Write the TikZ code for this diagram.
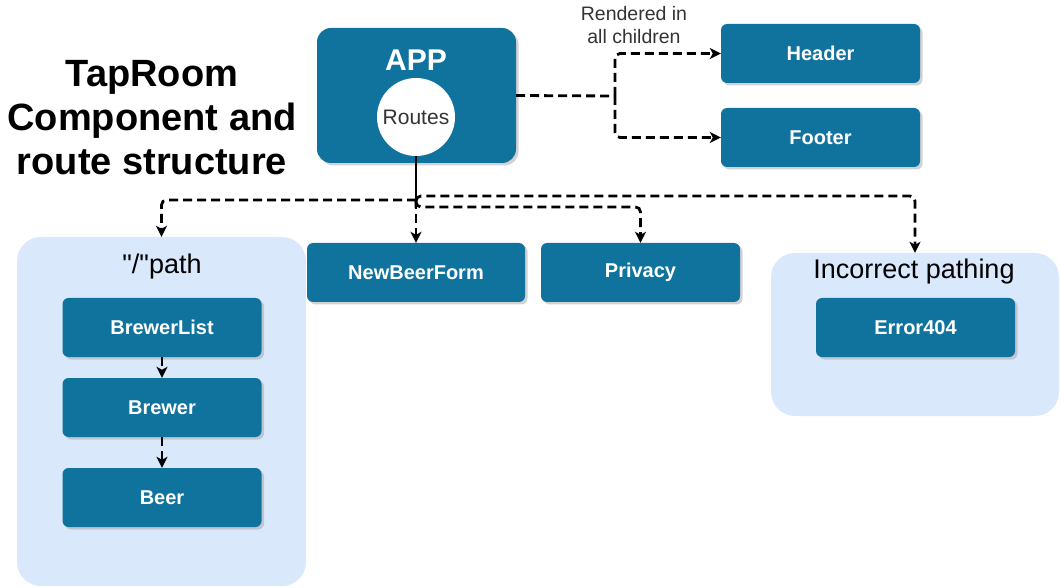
\documentclass[tikz,border=0pt]{standalone}
\usepackage{fontspec}
\setmainfont{Liberation Sans}
\newfontfamily\rawfont{Liberation Sans}[Ligatures=TeXOff]
\usetikzlibrary{arrows.meta,shadows}
\definecolor{compblue}{HTML}{10739E}
\definecolor{grpblue}{HTML}{DAE8FC}
\definecolor{notegray}{HTML}{333333}

\begin{document}
\begin{tikzpicture}[
  x=1pt,
  y=-1pt,
  comp/.style={fill=compblue, rounded corners=6pt, minimum width=199pt, minimum height=59pt,
    text=white, font=\fontsize{20}{24}\selectfont\bfseries,
    drop shadow={shadow xshift=2.5pt, shadow yshift=-2.5pt, fill=black!35, opacity=0.5}},
  grp/.style={fill=grpblue, rounded corners=24pt, inner sep=0pt},
  grplabel/.style={font=\fontsize{27}{31}\selectfont},
  solidline/.style={line width=2.8pt},
  dashline/.style={line width=2.8pt, dash pattern=on 9pt off 5pt, rounded corners=5pt},
  flow/.style={dashline, -{Stealth[length=11pt,width=11pt,inset=3pt]}}
]
  \useasboundingbox (0,0) rectangle (1061,588);

  % title
  \node[align=center, font=\fontsize{38}{44}\selectfont\bfseries] (title) at (152,118)
    {TapRoom\\Component and\\route structure};

  % groups
  \node[grp, minimum width=289pt, minimum height=349pt] (rootgrp) at (161.5,411.5) {};
  \node[grplabel] (rootlbl) at (162,267) {\rawfont"/"path};
  \node[grp, minimum width=288pt, minimum height=163pt] (errgrp) at (915,334.5) {};
  \node[grplabel] (errlbl) at (914,272) {Incorrect pathing};

  % app with routes
  \node[comp, minimum height=135pt, rounded corners=14pt] (app) at (416.5,95.5) {};
  \node[text=white, font=\fontsize{30}{34}\selectfont\bfseries] (applbl) at (416,60) {APP};
  \node[circle, fill=white, inner sep=0pt, minimum size=78pt, text=notegray,
    font=\fontsize{21}{24}\selectfont] (routes) at (416,117) {Routes};

  % components
  \node[comp] (header) at (820.5,53.5) {Header};
  \node[comp] (footer) at (820.5,137.5) {Footer};
  \node[comp, minimum width=218pt] (newbeer) at (416,272.5) {NewBeerForm};
  \node[comp] (privacy) at (640.5,272.5) {Privacy};
  \node[comp] (brewerlist) at (162,327.5) {BrewerList};
  \node[comp] (brewer) at (162,407.5) {Brewer};
  \node[comp] (beer) at (162,497.5) {Beer};
  \node[comp] (error) at (915.5,327.5) {Error404};

  \node[align=center, text=notegray, font=\fontsize{19.5}{23}\selectfont] (rendered) at (634,25)
    {Rendered in\\all children};

  % connectors
  \coordinate (split) at (615,96);
  \coordinate (hub) at (416,200);
  \draw[dashline] (app.east) -- (split);
  \draw[flow] (split) |- (header.west);
  \draw[flow] (split) |- (footer.west);

  \draw[solidline] (routes.south) -- (hub);
  \draw[flow] (hub) -| (rootgrp.north);
  \draw[flow] (hub) -- (newbeer.north);
  \draw[flow] (hub) -- ++(0,7) -| (privacy.north);
  \draw[flow] (hub) -- ++(0,-4) -| (errgrp.north);

  \draw[flow] (brewerlist.south) -- (brewer.north);
  \draw[flow] (brewer.south) -- (beer.north);
\end{tikzpicture}
\end{document}
